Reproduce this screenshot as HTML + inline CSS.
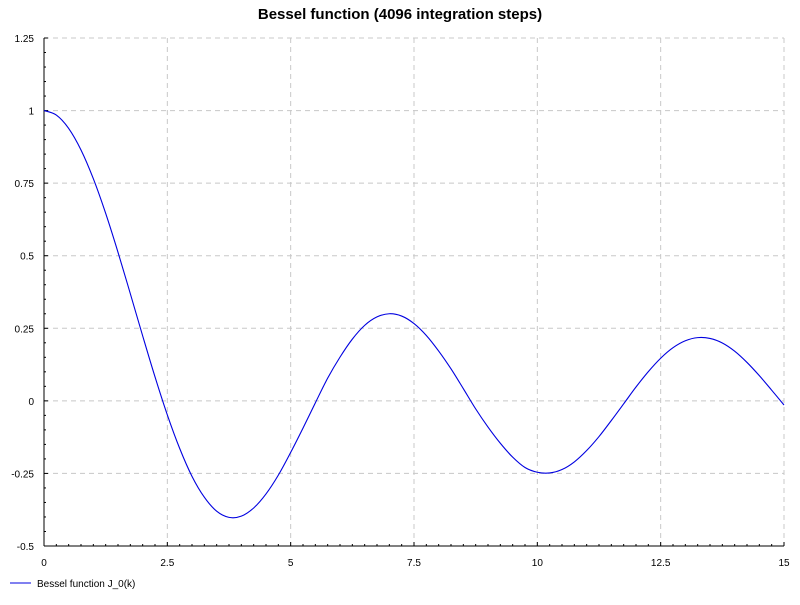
<!DOCTYPE html>
<html><head><meta charset="utf-8"><style>
body{margin:0;background:#fff;font-family:"Liberation Sans",sans-serif}
</style></head><body>
<svg id="chart" width="800" height="600" xmlns="http://www.w3.org/2000/svg" font-family="Liberation Sans, sans-serif">
<rect width="800" height="600" fill="#fff"/>
<text x="400" y="19" text-anchor="middle" font-size="15" font-weight="bold">Bessel function (4096 integration steps)</text>
<g id="grid"></g><g id="axes"></g>
<path id="line" fill="none" stroke="#0000e0" stroke-width="1.1"/>
<g>
<line x1="10" y1="583" x2="31" y2="583" stroke="#0000e0" stroke-width="1"/>
<text x="37" y="587" font-size="10">Bessel function J_0(k)</text>
</g>
</svg>
<script>
const xValues=[0,0.25,0.5,0.75,1,1.25,1.5,1.75,2,2.25,2.5,2.75,3,3.25,3.5,3.75,4,4.25,4.5,4.75,5,5.25,5.5,5.75,6,6.25,6.5,6.75,7,7.25,7.5,7.75,8,8.25,8.5,8.75,9,9.25,9.5,9.75,10,10.25,10.5,10.75,11,11.25,11.5,11.75,12,12.25,12.5,12.75,13,13.25,13.5,13.75,14,14.25,14.5,14.75,15];
const yValues=[1,0.98444,0.93847,0.86424,0.76520,0.64591,0.51183,0.36903,0.22389,0.08274,-0.04838,-0.16372,-0.26005,-0.33197,-0.38013,-0.40140,-0.39715,-0.36903,-0.32054,-0.25575,-0.17760,-0.09378,-0.00684,0.07820,0.15065,0.21274,0.26009,0.28917,0.30008,0.29210,0.26634,0.22529,0.17165,0.11030,0.04193,-0.02767,-0.09033,-0.14616,-0.19393,-0.22965,-0.24594,-0.24840,-0.23664,-0.21034,-0.17119,-0.12300,-0.06765,-0.01024,0.04769,0.10077,0.14688,0.18306,0.20693,0.21778,0.21498,0.19934,0.17107,0.13235,0.08680,0.03678,-0.01422];
const xTicks=[0,2.5,5,7.5,10,12.5,15];
const xTickLabels=["0","2.5","5","7.5","10","12.5","15"];
const yTicks=[-0.5,-0.25,0,0.25,0.5,0.75,1,1.25];
const yTickLabels=["-0.5","-0.25","0","0.25","0.5","0.75","1","1.25"];
const X0=44,X1=784,Y0=546,Y1=38;
const sx=v=>X0+(v-0)/(15-0)*(X1-X0);
const sy=v=>Y0-(v+0.5)/1.75*(Y0-Y1);
const NS="http://www.w3.org/2000/svg";
function mk(p,t,a){const e=document.createElementNS(NS,t);for(const k in a)e.setAttribute(k,a[k]);p.appendChild(e);return e;}
const grid=document.getElementById('grid'),axes=document.getElementById('axes');
xTicks.forEach((v,i)=>{
  if(i>0){const g=mk(grid,'line',{x1:sx(v),x2:sx(v),y1:Y1,y2:Y0,stroke:'#c8c8c8','stroke-dasharray':'5,4'});
  
  }
  const t=mk(axes,'text',{x:sx(v),y:566,'text-anchor':'middle','font-size':'10'});t.textContent=xTickLabels[i];
  
  
});
yTicks.forEach((v,i)=>{
  if(i>0){const g=mk(grid,'line',{x1:X0,x2:X1,y1:sy(v),y2:sy(v),stroke:'#c8c8c8','stroke-dasharray':'5,4'});
  
  }
  const t=mk(axes,'text',{x:34,y:sy(v)+4,'text-anchor':'end','font-size':'10'});t.textContent=yTickLabels[i];
  
  
});
for(let k=0;k<=60;k++){const x=sx(k*0.25);mk(axes,'line',{x1:x,x2:x,y1:Y0,y2:Y0-(k%10==0?4:2),stroke:'#000'});}
for(let k=0;k<=35;k++){const y=sy(-0.5+k*0.05);mk(axes,'line',{x1:X0,x2:X0+(k%5==0?4:2),y1:y,y2:y,stroke:'#000'});}
const xa=mk(axes,'line',{x1:X0,x2:X1,y1:Y0,y2:Y0,stroke:'#000'});


const ya=mk(axes,'line',{x1:X0,x2:X0,y1:Y1,y2:Y0,stroke:'#000'});


const P=xValues.map((x,i)=>[sx(x),sy(yValues[i])]);
let d='M'+P[0][0]+','+P[0][1];
for(let i=0;i<P.length-1;i++){
  const p0=P[Math.max(0,i-1)],p1=P[i],p2=P[i+1],p3=P[Math.min(P.length-1,i+2)];
  const c1=[p1[0]+(p2[0]-p0[0])/6,p1[1]+(p2[1]-p0[1])/6],c2=[p2[0]-(p3[0]-p1[0])/6,p2[1]-(p3[1]-p1[1])/6];
  d+=' C'+c1+' '+c2+' '+p2;
}
document.getElementById('line').setAttribute('d',d);
</script>
</body></html>
